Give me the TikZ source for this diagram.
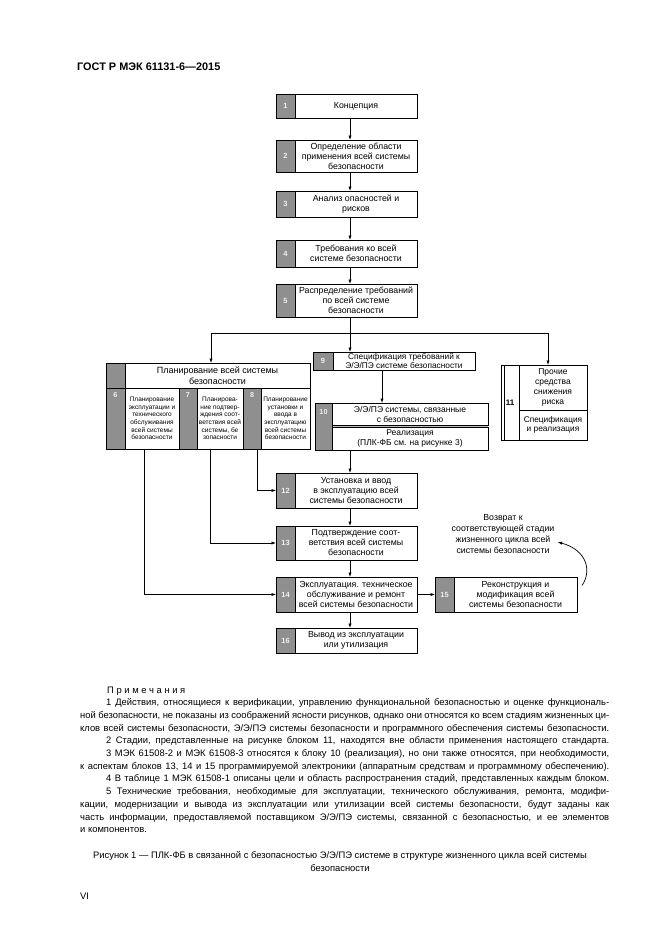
\documentclass[tikz,border=0pt]{standalone}
\usepackage{fontspec}
\setmainfont{Liberation Sans}
\usetikzlibrary{arrows.meta,calc}
\definecolor{numgray}{HTML}{8F8F8F}
\definecolor{numtext}{HTML}{F0F0F0}
\newcommand{\myfs}[2]{\fontsize{#1}{#2}\selectfont}
\newcommand{\jline}[2]{\hbox to #1{#2}}
\begin{document}
\begin{tikzpicture}[x=1pt,y=-1pt,
  box/.style={draw, line width=0.7pt, fill=white, inner sep=0pt, outer sep=0pt, align=center, font=\myfs{8.8}{10}},
  gcell/.style={draw, line width=0.7pt, fill=numgray, inner sep=0pt, outer sep=0pt, text=numtext, font=\bfseries\myfs{7.5}{8}},
  toplab/.style={anchor=north, text=numtext, font=\bfseries\myfs{7.2}{8}, yshift=-1pt},
  arr/.style={line width=0.7pt, -{Latex[length=4.5pt,width=3.2pt]}},
  ln/.style={line width=0.7pt},
  note/.style={anchor=base west, inner sep=0pt, font=\myfs{9.4}{11}},
  capt/.style={anchor=base, inner sep=0pt, font=\myfs{9.4}{11}}
]
\useasboundingbox (0,0) rectangle (661,935);
\fill[white] (0,0) rectangle (661,935);

% header
\node[anchor=base west, inner sep=0pt, font=\bfseries\myfs{10.9}{12}] (hdr) at (77,70) {ГОСТ Р МЭК 61131-6—2015};

% main column
\node[gcell, minimum width=19pt, minimum height=24pt] (n1) at (285.5,106) {1};
\node[box, minimum width=122pt, minimum height=24pt] (b1) at (356,106) {Концепция};
\node[gcell, minimum width=19pt, minimum height=32pt] (n2) at (285.5,156) {2};
\node[box, minimum width=122pt, minimum height=32pt] (b2) at (356,156) {Определение области\\применения всей системы\\безопасности};
\node[gcell, minimum width=19pt, minimum height=26pt] (n3) at (285.5,204) {3};
\node[box, minimum width=122pt, minimum height=26pt] (b3) at (356,204) {Анализ опасностей и\\рисков};
\node[gcell, minimum width=19pt, minimum height=27pt] (n4) at (285.5,253.5) {4};
\node[box, minimum width=122pt, minimum height=27pt] (b4) at (356,253.5) {Требования ко всей\\системе безопасности};
\node[gcell, minimum width=19pt, minimum height=33pt] (n5) at (285.5,300.5) {5};
\node[box, minimum width=122pt, minimum height=33pt] (b5) at (356,300.5) {Распределение требований\\по всей системе\\безопасности};

% planning group
\node[gcell, minimum width=19pt, minimum height=25pt] (p0) at (115.5,375.5) {};
\node[box, minimum width=185pt, minimum height=25pt, font=\myfs{9}{10.5}] (pt) at (217.5,375.5) {Планирование всей системы\\безопасности};
\node[gcell, minimum width=19pt, minimum height=61pt, label={[toplab]north:6}] (g6) at (115.5,418.5) {};
\node[box, minimum width=54pt, minimum height=61pt, font=\myfs{6.5}{7.6}] (c6) at (152,418.5) {Планирование\\эксплуатации и\\технического\\обслуживания\\всей системы\\безопасности};
\node[gcell, minimum width=18pt, minimum height=61pt, label={[toplab]north:7}] (g7) at (188,418.5) {};
\node[box, minimum width=46pt, minimum height=61pt, font=\myfs{6.5}{7.6}] (c7) at (220,418.5) {Планирова-\\ние подтвер-\\ждения соот-\\ветствия всей\\системы, бе\\зопасности};
\node[gcell, minimum width=18pt, minimum height=61pt, label={[toplab]north:8}] (g8) at (252,418.5) {};
\node[box, minimum width=49pt, minimum height=61pt, font=\myfs{6.5}{7.6}] (c8) at (285.5,418.5) {Планирование\\установки и\\ввода в\\эксплуатацию\\всей системы\\безопасности};

% block 9
\node[gcell, minimum width=20pt, minimum height=18pt] (n9) at (323,361) {9};
\node[box, minimum width=142pt, minimum height=18pt, font=\myfs{8.3}{9}] (b9) at (404,361) {Спецификация требований к\\Э/Э/ПЭ системе безопасности};

% block 10
\fill[numgray!60] (332,425) rectangle (488,427.5);
\node[gcell, minimum width=17pt, minimum height=47pt, label={[toplab, yshift=-2pt]north:10}] (n10) at (323.5,426.5) {};
\node[box, minimum width=156pt, minimum height=22pt, font=\myfs{8.5}{10}] (b10a) at (410,414) {Э/Э/ПЭ системы, связанные\\с безопасностью};
\node[box, minimum width=156pt, minimum height=22.5pt, font=\myfs{8.5}{10}] (b10b) at (410,438.75) {Реализация\\(ПЛК-ФБ см. на рисунке 3)};

% block 11
\node[box, minimum width=18pt, minimum height=75pt, font=\bfseries\myfs{8}{9}] (n11) at (510,402.5) {11};
\draw[ln] ([xshift=3pt]n11.north west) -- ([xshift=3pt]n11.south west);
\node[box, minimum width=68pt, minimum height=45pt, font=\myfs{8.5}{10.2}] (b11a) at (553,387.5) {Прочие\\средства\\снижения\\риска};
\node[box, minimum width=68pt, minimum height=30pt, font=\myfs{8.3}{9.5}] (b11b) at (553,425) {Спецификация\\и реализация};

% lower column
\node[gcell, minimum width=19pt, minimum height=35pt] (n12) at (285.5,490.5) {12};
\node[box, minimum width=122pt, minimum height=35pt] (b12) at (356,490.5) {Установка и ввод\\в эксплуатацию всей\\системы безопасности};
\node[gcell, minimum width=19pt, minimum height=34pt] (n13) at (285.5,543) {13};
\node[box, minimum width=122pt, minimum height=34pt] (b13) at (356,543) {Подтверждение соот-\\ветствия всей системы\\безопасности};
\node[gcell, minimum width=19pt, minimum height=35pt] (n14) at (285.5,594.5) {14};
\node[box, minimum width=122pt, minimum height=35pt] (b14) at (356,594.5) {Эксплуатация. техническое\\обслуживание и ремонт\\всей системы безопасности};
\node[gcell, minimum width=19pt, minimum height=25pt] (n16) at (285.5,640.5) {16};
\node[box, minimum width=122pt, minimum height=25pt] (b16) at (356,640.5) {Вывод из эксплуатации\\или утилизация};
\node[gcell, minimum width=19pt, minimum height=35pt] (n15) at (444.5,594.5) {15};
\node[box, minimum width=123pt, minimum height=35pt] (b15) at (515.5,594.5) {Реконструкция и\\модификация всей\\системы безопасности};

\node[align=center, inner sep=0pt, font=\myfs{8.8}{11.3}] (ret) at (503,534) {Возврат к\\соответствующей стадии\\жизненного цикла всей\\системы безопасности};

% connectors
\coordinate (ax) at (350,0);
\coordinate (sp) at (350,333);
\coordinate (xl) at (211,333);
\coordinate (xr) at (548,333);
\coordinate (x9) at (382,0);
\draw[arr] (b1.south -| ax) -- (b2.north -| ax);
\draw[arr] (b2.south -| ax) -- (b3.north -| ax);
\draw[arr] (b3.south -| ax) -- (b4.north -| ax);
\draw[arr] (b4.south -| ax) -- (b5.north -| ax);
\draw[ln] (b5.south -| ax) -- (sp);
\draw[ln] (xl) -- (xr);
\draw[arr] (xl) -- (xl |- pt.north);
\draw[arr] (sp) -- (sp |- b9.north);
\draw[arr] (xr) -- (xr |- b11a.north);
\draw[arr] (b9.south -| x9) -- (b10a.north -| x9);
\draw[arr] (b10b.south -| ax) -- (b12.north -| ax);
\draw[arr] (b12.south -| ax) -- (b13.north -| ax);
\draw[arr] (b13.south -| ax) -- (b14.north -| ax);
\draw[arr] (b14.south -| ax) -- (b16.north -| ax);
\draw[arr] (b14.east) -- (n15.west);
\draw[arr] ([xshift=-4pt]g8.south east) |- (n12.west);
\draw[arr] ([xshift=13pt]c7.south west) |- (n13.west);
\draw[arr] ([xshift=19pt]c6.south west) |- (n14.west);
\draw[arr] ([xshift=5pt,yshift=9pt]b15.east) .. controls (592,571) and (587,550) .. ([xshift=3pt,yshift=-8pt]ret.east);

% notes
\node[note] (l0) at (107,693) {П р и м е ч а н и я};
\node[note] (l1) at (106,705.7) {\jline{503pt}{1 Действия, относящиеся к верификации, управлению функциональной безопасностью и оценке функциональ-}};
\node[note] (l2) at (80,718.4) {\jline{529pt}{ной безопасности, не показаны из соображений ясности рисунков, однако они относятся ко всем стадиям жизненных ци-}};
\node[note] (l3) at (80,731.1) {\jline{529pt}{клов всей системы безопасности, Э/Э/ПЭ системы безопасности и программного обеспечения системы безопасности.}};
\node[note] (l4) at (106,743.8) {\jline{503pt}{2 Стадии, представленные на рисунке блоком 11, находятся вне области применения настоящего стандарта.}};
\node[note] (l5) at (106,756.5) {\jline{503pt}{3 МЭК 61508-2 и МЭК 61508-3 относятся к блоку 10 (реализация), но они также относятся, при необходимости,}};
\node[note] (l6) at (80,769.2) {\jline{529pt}{к аспектам блоков 13, 14 и 15 программируемой электроники (аппаратным средствам и программному обеспечению).}};
\node[note] (l7) at (106,781.9) {\jline{503pt}{4 В таблице 1 МЭК 61508-1 описаны цели и область распространения стадий, представленных каждым блоком.}};
\node[note] (l8) at (106,794.6) {\jline{503pt}{5 Технические требования, необходимые для эксплуатации, технического обслуживания, ремонта, модифи-}};
\node[note] (l9) at (80,807.3) {\jline{529pt}{кации, модернизации и вывода из эксплуатации или утилизации всей системы безопасности, будут заданы как}};
\node[note] (l10) at (80,820) {\jline{529pt}{часть информации, предоставляемой поставщиком Э/Э/ПЭ системы, связанной с безопасностью, и ее элементов}};
\node[note] (l11) at (80,832.7) {и компонентов.};

\node[capt] (cap1) at (340,858) {Рисунок 1 — ПЛК-ФБ в связанной с безопасностью Э/Э/ПЭ системе в структуре жизненного цикла всей системы};
\node[capt] (cap2) at (340,871.5) {безопасности};
\node[note] (pg) at (80,899) {VI};
\end{tikzpicture}
\end{document}
